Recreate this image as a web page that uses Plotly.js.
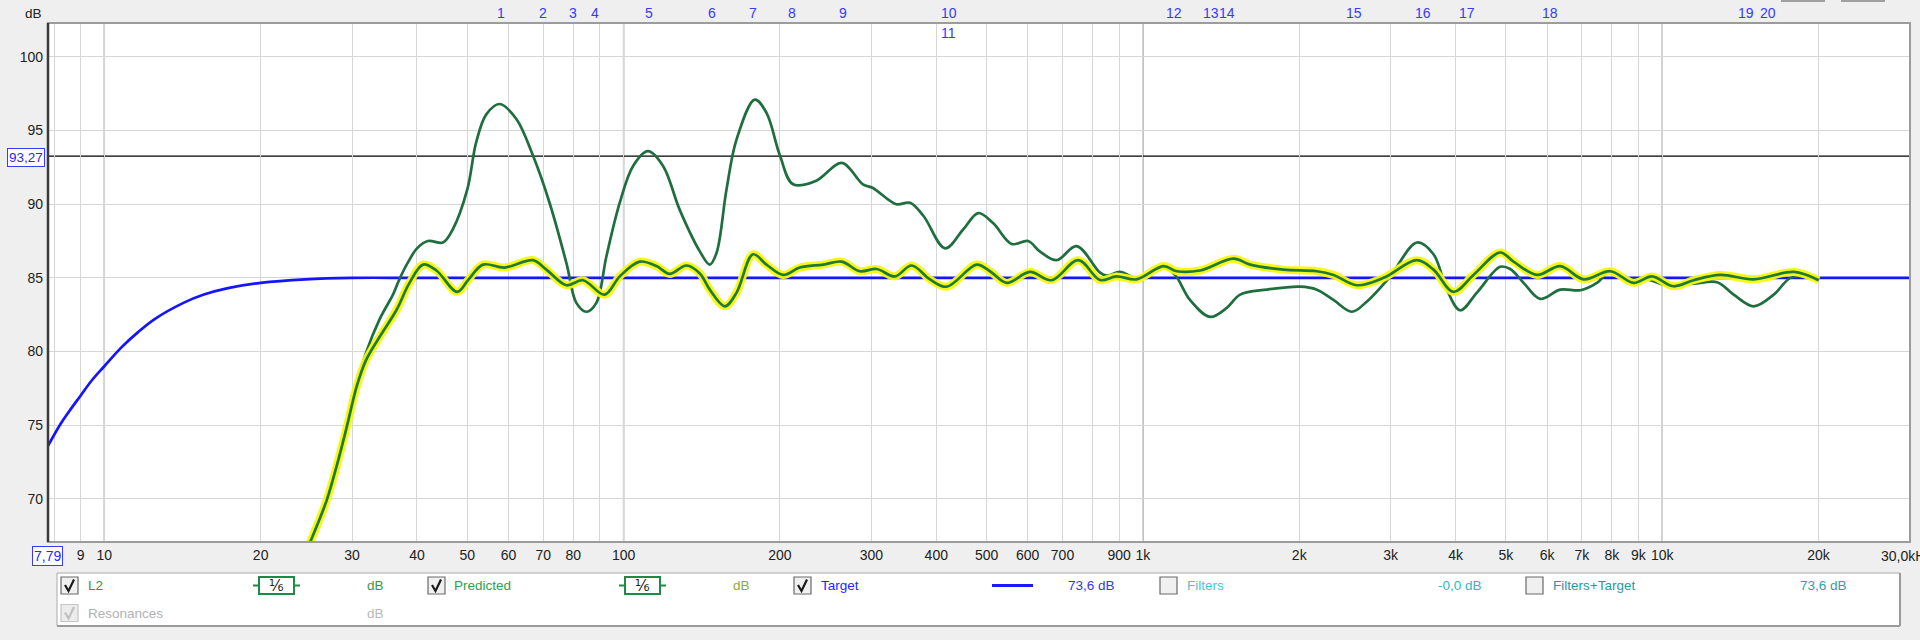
<!DOCTYPE html>
<html>
<head>
<meta charset="utf-8">
<script src="https://cdn.plot.ly/plotly-3.0.1.min.js"></script>
<style>
html,body{margin:0;padding:0;background:#efefef;}
#chart{width:1920px;height:640px;}
</style>
</head>
<body>
<div id="chart"></div>
<script>
// ---------------- DATA ----------------
const targetFreq = [7.79, 8.24, 8.54, 9, 9.44, 10, 10.8, 11.6, 12.5, 14.2, 15.5, 17.3, 20, 24.4, 30, 40, 100, 1000, 10000, 30000];
const targetDb   = [73.6, 75.1, 75.9, 77.0, 78.0, 79.0, 80.3, 81.3, 82.2, 83.3, 83.85, 84.3, 84.66, 84.9, 85.0, 85.0, 85.0, 85.0, 85.0, 85.0];

const l2Freq = [24, 25, 26.8, 28.2, 29.4, 30.6, 31.9, 33.9, 36.0, 37.0, 38.5, 40, 42, 44.9, 46.9, 50, 52, 54.4, 57.7, 62.1, 66.9,
  72.0, 77.6, 81.1, 84.8, 88.6, 92.7, 98.3, 104.3, 111.4, 119.1, 128.3, 140.2, 146.5, 151, 157.8, 165, 178.9, 188.4, 200, 212,
  235, 263, 289, 302, 335, 356, 378, 416, 451, 482, 515, 559, 601, 633, 682, 745, 827, 852, 903, 973,
  1095, 1153, 1232, 1347, 1450, 1539, 1732, 2008, 2162, 2328, 2525, 2700, 2993, 3370, 3627, 3848, 4083, 4397, 4875, 5097,
  5408, 5823, 6363, 6954, 7488, 7943, 8553, 9348, 10214, 11497, 12752, 13726, 15003, 16394, 17658, 19005, 20012];
const l2Db = [65.8, 67.2, 69.9, 72.6, 75.1, 77.7, 79.9, 82.2, 83.9, 84.9, 86.1, 87.0, 87.5, 87.4, 88.3, 91.0, 94.2, 96.1, 96.8, 95.8, 93.3,
  90.1, 86.0, 83.3, 82.7, 83.3, 86.5, 90.1, 92.6, 93.6, 92.6, 89.6, 86.8, 85.9, 86.7, 91.0, 94.4, 97.1, 96.2, 93.3, 91.35,
  91.6, 92.8, 91.35, 91.1, 90.0, 90.1, 89.2, 87.0, 88.3, 89.4, 88.7, 87.3, 87.5, 86.8, 86.2, 87.15, 85.35, 85.15, 85.4, 85.0,
  85.75, 85.2, 83.5, 82.35, 82.96, 83.86, 84.2, 84.4, 84.2, 83.5, 82.7, 83.4, 85.1, 87.4, 86.6, 84.2, 82.8, 84.0, 85.75, 85.6,
  84.66, 83.57, 84.2, 84.16, 84.66, 85.45, 84.9, 84.9, 84.5, 84.6, 84.7, 83.86, 83.07, 83.86, 85.0, 85.1, 84.84];

const predFreq = [24, 25, 26.8, 28.2, 29.4, 30.6, 31.9, 33.9, 36.5, 38.7, 41.1, 43.6, 47.8, 50.3, 53.6, 59.0, 66.9, 71.0, 77.6, 83.5,
  91.9, 98.3, 107.4, 115.7, 122.7, 132.1, 140.2, 146.5, 156.6, 165, 177.5, 188.4, 202.8, 218.4, 242.2, 262.9, 285, 307, 333, 358.5,
  388.9, 418.8, 478.5, 507.5, 546.7, 606, 667, 751, 827, 889, 973, 1095, 1162, 1288, 1494, 1609, 1865, 2162, 2328, 2582,
  2906, 3370, 3627, 3963, 4330, 4875, 5172, 5739, 6363, 7058, 7943, 8808, 9557, 10517, 11497, 12940, 15003, 17919, 20012];
const predDb = [65.8, 67.2, 69.9, 72.6, 75.1, 77.6, 79.4, 81.0, 82.8, 84.66, 85.9, 85.5, 84.05, 84.9, 85.9, 85.7, 86.2, 85.56, 84.5, 84.84,
  83.86, 85.1, 86.1, 85.8, 85.27, 85.84, 85.3, 84.2, 83.07, 84.0, 86.6, 85.9, 85.2, 85.7, 85.9, 86.1, 85.45, 85.6, 85.1, 85.84,
  84.9, 84.4, 85.9, 85.45, 84.66, 85.4, 84.84, 86.2, 84.85, 85.1, 84.9, 85.8, 85.45, 85.5, 86.3, 85.9, 85.56, 85.45, 85.2, 84.5,
  85.0, 86.2, 85.56, 84.05, 85.2, 86.72, 86.1, 85.2, 85.8, 84.9, 85.45, 84.66, 85.1, 84.43, 84.84, 85.2, 84.9, 85.4, 84.84];

const gridFreqs = [8, 9, 10, 20, 30, 40, 50, 60, 70, 80, 90, 100, 200, 300, 400, 500, 600, 700, 800, 900, 1000,
  2000, 3000, 4000, 5000, 6000, 7000, 8000, 9000, 10000, 20000];
const gridLabels = ['', '9', '10', '20', '30', '40', '50', '60', '70', '80', '', '100', '200', '300', '400', '500', '600', '700', '', '900', '1k',
  '2k', '3k', '4k', '5k', '6k', '7k', '8k', '9k', '10k', '20k'];
const decadeFreqs = [10, 100, 1000, 10000];
const dbTicks = [70, 75, 80, 85, 90, 95, 100];

const filterFreqs  = [58, 70, 80, 88, 111.8, 147.8, 177.7, 210.9, 264.4, 423, 423, 1148, 1353, 1452, 2546, 3465, 4212, 6087, 14520, 15996];
const filterLabels = ['1','2','3','4','5','6','7','8','9','10','11','12','13','14','15','16','17','18','19','20'];
const filterRow    = [0,0,0,0,0,0,0,0,0,0,1,0,0,0,0,0,0,0,0,0];

const cursorDb = 93.27;
const cursorDbText = '93,27';
const startFreqText = '7,79';
const endFreqText = '30,0kHz';

// ---------------- LAYOUT HELPERS ----------------
const W = 1920, H = 640, ML = 48, MR = 10, MT = 23, MB = 98;
const PW = W - ML - MR, PH = H - MT - MB;
const px = x => (x - ML) / PW;
const py = y => (H - MB - y) / PH;
const FONT = 'Liberation Sans, Arial, sans-serif';

const shapes = [];
const annotations = [];

function ann(text, x, y, opt) {
  opt = opt || {};
  annotations.push(Object.assign({
    text: text, xref: 'paper', yref: 'paper', x: px(x), y: py(y),
    xanchor: opt.xa || 'left', yanchor: 'middle', showarrow: false,
    font: {family: opt.family || FONT, size: opt.size || 13.5, color: opt.color || '#222'}
  }, opt.extra || {}));
}
function rectPx(x0, y0, x1, y1, line, fill, lw) {
  shapes.push({type: 'rect', xref: 'paper', yref: 'paper', x0: px(x0), x1: px(x1), y0: py(y1), y1: py(y0),
    line: {color: line, width: lw === undefined ? 1 : lw}, fillcolor: fill || 'rgba(0,0,0,0)', layer: 'above'});
}
function linePx(x0, y0, x1, y1, color, w) {
  shapes.push({type: 'line', xref: 'paper', yref: 'paper', x0: px(x0), x1: px(x1), y0: py(y0), y1: py(y1),
    line: {color: color, width: w}, layer: 'above'});
}
function checkbox(x, y, checked, gray) {
  rectPx(x, y, x + 17, y + 17, gray ? '#c4c4c4' : '#6a6a6a', gray ? '#ececec' : '#f0f0f0', 1.2);
  if (checked) {
    const p = 'M ' + px(x + 4) + ',' + py(y + 8) + ' L ' + px(x + 7.5) + ',' + py(y + 14) + ' L ' + px(x + 13) + ',' + py(y + 2.5);
    shapes.push({type: 'path', xref: 'paper', yref: 'paper', path: p,
      line: {color: gray ? '#c0c0c0' : '#1a1a1a', width: 2.2}, layer: 'above'});
  }
}
function smoothIcon(x0, x1, y) {
  linePx(x0 - 6, y, x0, y, '#1e8a46', 2);
  linePx(x1, y, x1 + 6, y, '#1e8a46', 2);
  rectPx(x0, y - 8.5, x1, y + 8.5, '#1e8a46', '#ffffff', 2);
  ann('⅙', (x0 + x1) / 2, y, {xa: 'center', family: 'DejaVu Sans', size: 15, color: '#222'});
}

// decade lines & cursor line (data coordinates)
decadeFreqs.forEach(f => shapes.push({type: 'line', xref: 'x', yref: 'paper', x0: f, x1: f, y0: 0, y1: 1,
  line: {color: '#a6a6a6', width: 1.5}, layer: 'between'}));
shapes.push({type: 'line', xref: 'paper', yref: 'y', x0: 0, x1: 1, y0: cursorDb, y1: cursorDb,
  line: {color: '#000000', width: 1.2}, layer: 'between'});

// plot frame
rectPx(ML, MT, ML + PW, MT + PH, '#9c9c9c', null, 2);
linePx(ML, MT, ML, MT + PH, '#3a3a3a', 2.5);

// legend box
rectPx(57, 573, 1900, 626, '#a9a9a9', '#ffffff', 1);
linePx(57, 626, 1900, 626, '#9a9a9a', 2);
linePx(1900, 573, 1900, 626, '#9a9a9a', 2);

// top-right clipped buttons
linePx(1781, 1, 1825, 1, '#a0a0a0', 2);
linePx(1841, 1, 1885, 1, '#a0a0a0', 2);

// legend content row 1
const R1 = 585.5, R2 = 613;
checkbox(61, R1 - 8.5, true, false);
ann('L2', 86, R1, {color: '#2a9a4c'});
smoothIcon(259, 294, R1);
ann('dB', 365, R1, {color: '#3a9a3a'});
checkbox(428, R1 - 8.5, true, false);
ann('Predicted', 452, R1, {color: '#2aa050'});
smoothIcon(625, 660, R1);
ann('dB', 731, R1, {color: '#86b034'});
checkbox(794, R1 - 8.5, true, false);
ann('Target', 819, R1, {color: '#2424ff'});
linePx(992, R1, 1033, R1, '#1a1aff', 3);
ann('73,6 dB', 1066, R1, {color: '#3434ff'});
checkbox(1160, R1 - 8.5, false, false);
ann('Filters', 1185, R1, {color: '#44c8d8'});
ann('-0,0 dB', 1436, R1, {color: '#30b8c8'});
checkbox(1526, R1 - 8.5, false, false);
ann('Filters+Target', 1551, R1, {color: '#229c9c'});
ann('73,6 dB', 1798, R1, {color: '#2aa4a4'});
// row 2
checkbox(61, R2 - 8.5, true, true);
ann('Resonances', 86, R2, {color: '#b2b2b2'});
ann('dB', 365, R2, {color: '#b8b8b8'});

// axis extra labels
ann('dB', 33, 13, {xa: 'center', size: 13.5});
ann(cursorDbText, 25.5, 157, {xa: 'center', color: '#2828ff',
  extra: {bgcolor: '#ffffff', bordercolor: '#3a3aff', borderwidth: 1, borderpad: 1}});
ann(startFreqText, 47.5, 556, {xa: 'center', size: 14, color: '#2828ff',
  extra: {bgcolor: '#ffffff', bordercolor: '#3a3aff', borderwidth: 1, borderpad: 1}});
ann(endFreqText, 1879, 556, {xa: 'left', size: 14, color: '#222'});
ann('▲▼', 40, 643, {xa: 'center', size: 12, color: '#111'});

// filter markers (data x, log axis => log10)
filterFreqs.forEach((f, i) => annotations.push({
  text: filterLabels[i], xref: 'x', yref: 'paper', x: Math.log10(f), y: py(filterRow[i] ? 33 : 13),
  xanchor: 'center', yanchor: 'middle', showarrow: false,
  font: {family: FONT, size: 14, color: '#3838ff'}
}));

// ---------------- TRACES ----------------
const SM = 1.0;
const traces = [
  {x: targetFreq, y: targetDb, type: 'scatter', mode: 'lines', line: {color: '#1414ff', width: 2.7, shape: 'spline', smoothing: SM}, hoverinfo: 'skip'},
  {x: l2Freq, y: l2Db, type: 'scatter', mode: 'lines', line: {color: '#1e6e3e', width: 2.7, shape: 'spline', smoothing: SM}, hoverinfo: 'skip'},
  {x: predFreq, y: predDb, type: 'scatter', mode: 'lines', line: {color: 'rgba(248,248,10,0.95)', width: 8, shape: 'spline', smoothing: SM}, hoverinfo: 'skip'},
  {x: predFreq, y: predDb, type: 'scatter', mode: 'lines', line: {color: '#1d7a38', width: 2.7, shape: 'spline', smoothing: SM}, hoverinfo: 'skip'}
];

const layout = {
  width: W, height: H,
  margin: {l: ML, r: MR, t: MT, b: MB, pad: 0},
  paper_bgcolor: '#efefef', plot_bgcolor: '#ffffff',
  showlegend: false,
  font: {family: FONT, size: 14, color: '#222'},
  xaxis: {
    type: 'log', range: [Math.log10(7.79), Math.log10(30000)], fixedrange: true,
    tickmode: 'array', tickvals: gridFreqs, ticktext: gridLabels,
    showgrid: true, gridcolor: '#d6d6d6', gridwidth: 1, zeroline: false, showline: false, ticks: '',
    ticklabelstandoff: 3,
    tickfont: {family: FONT, size: 14, color: '#222'}
  },
  yaxis: {
    range: [67.07, 102.3], fixedrange: true,
    tickmode: 'array', tickvals: dbTicks,
    showgrid: true, gridcolor: '#d6d6d6', gridwidth: 1.2, zeroline: false, showline: false, ticks: '',
    ticklabelstandoff: 4,
    tickfont: {family: FONT, size: 14, color: '#222'}
  },
  shapes: shapes,
  annotations: annotations
};

Plotly.newPlot('chart', traces, layout, {staticPlot: true, displayModeBar: false});
</script>
</body>
</html>
